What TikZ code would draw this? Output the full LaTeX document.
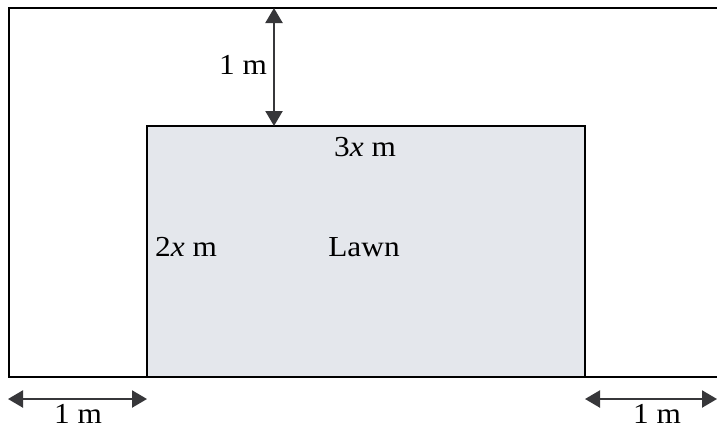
\documentclass[tikz,border=0pt]{standalone}
\usepackage{fontspec}
\setmainfont{Liberation Serif}
\usetikzlibrary{arrows.meta}
\definecolor{lawn}{RGB}{228,231,236}
\definecolor{arrowgray}{RGB}{55,55,58}
\begin{document}
\begin{tikzpicture}[x=1pt,y=-1pt,
  edge/.style={line width=2.3pt,black},
  dimarrow/.style={line width=2.2pt,arrowgray,{Triangle[length=15pt,width=17pt]}-{Triangle[length=15pt,width=17pt]}},
  lbl/.style={font=\fontsize{29}{32}\selectfont,inner sep=1pt,xscale=1.08,transform shape}]
\useasboundingbox (0,0) rectangle (717,429);
% outer boundary (right edge beyond picture)
\coordinate (otl) at (9,8);
\coordinate (otr) at (720,8);
\coordinate (obl) at (9,377);
\coordinate (obr) at (720,377);
\draw[edge] (otr) -- (otl) -- (obl) -- (obr);
% lawn
\coordinate (itl) at (147,126);
\coordinate (ibr) at (585,377);
\filldraw[edge,fill=lawn] (itl) rectangle (ibr);
% vertical dimension
\coordinate (vt) at (274,8);
\coordinate (vb) at (274,126);
\draw[dimarrow] (vt) -- (vb);
% bottom dimensions
\coordinate (bl1) at (8,399);
\coordinate (bl2) at (147,399);
\draw[dimarrow] (bl1) -- (bl2);
\coordinate (br1) at (585,399);
\coordinate (br2) at (717,399);
\draw[dimarrow] (br1) -- (br2);
% labels
\node[lbl] (ltop) at (243,65) {1 m};
\node[lbl] (lbl1) at (78,414) {1 m};
\node[lbl] (lbr1) at (657,414) {1 m};
\node[lbl] (lw) at (365,147) {3\textit{x} m};
\node[lbl] (lh) at (186,247) {2\textit{x} m};
\node[lbl] (llawn) at (364,247) {Lawn};
\end{tikzpicture}
\end{document}
